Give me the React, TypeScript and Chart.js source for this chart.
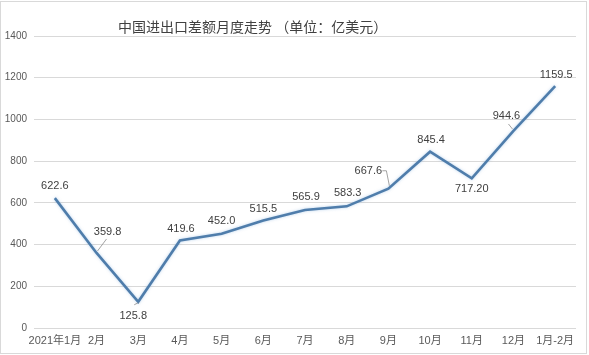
import React, { useEffect, useRef } from "react";
import { Chart, registerables } from "chart.js";

Chart.register(...registerables);

const categories = ["2021年1月", "2月", "3月", "4月", "5月", "6月", "7月", "8月", "9月", "10月", "11月", "12月", "1月-2月"];
const values = [622.6, 359.8, 125.8, 419.6, 452.0, 515.5, 565.9, 583.3, 667.6, 845.4, 717.2, 944.6, 1159.5];
const valueLabels = ["622.6", "359.8", "125.8", "419.6", "452.0", "515.5", "565.9", "583.3", "667.6", "845.4", "717.20", "944.6", "1159.5"];
const titleText = "中国进出口差额月度走势 （单位：亿美元）";

// label placement offsets (px) relative to points
const labelOffsets: [number, number][] = [
  [0, -12], [11, -21], [-5, 14], [1, -12], [0, -13], [0, -12], [1, -13],
  [1, -13], [-20, -18], [1, -12], [0, 11], [-7, -15], [1, -11],
];
const leaders: Record<number, [number, number][]> = {
  1: [[1, -2], [10, -14]],
  2: [[-4, 3], [0, 1]],
  8: [[-6, -18], [-2, -18], [1, -3]],
  11: [[-5, -7], [-1, -2]],
};

const FONT = "'Liberation Sans', 'Noto Sans CJK SC', sans-serif";

export default function App() {
  const ref = useRef<HTMLCanvasElement | null>(null);
  useEffect(() => {
    document.body.style.margin = "0";
    const canvas = ref.current!;
    const framePlugin = {
      id: "frame",
      beforeDraw(chart: any) {
        const ctx = chart.ctx;
        ctx.save();
        ctx.fillStyle = "#ffffff";
        ctx.fillRect(0, 0, chart.width, chart.height);
        ctx.strokeStyle = "#d9d9d9";
        ctx.lineWidth = 1;
        ctx.strokeRect(0.5, 1.5, 586, 352);
        ctx.restore();
      },
      afterDraw(chart: any) {
        const ctx = chart.ctx;
        const area = chart.chartArea;
        ctx.save();
        ctx.fillStyle = "#404040";
        ctx.font = `14px 'Noto Sans CJK SC', sans-serif`;
        ctx.textAlign = "left";
        ctx.textBaseline = "middle";
        ctx.fillText(titleText, area.left + 84, 27);
        const meta = chart.getDatasetMeta(0);
        ctx.font = `11px ${FONT}`;
        ctx.textAlign = "center";
        ctx.fillStyle = "#404040";
        meta.data.forEach((pt: any, i: number) => {
          const [dx, dy] = labelOffsets[i];
          ctx.fillText(valueLabels[i], pt.x + dx, pt.y + dy);
          const ld = leaders[i];
          if (ld) {
            ctx.strokeStyle = "#8c8c8c";
            ctx.lineWidth = 0.8;
            ctx.beginPath();
            ld.forEach(([lx, ly], k) => {
              if (k === 0) ctx.moveTo(pt.x + lx, pt.y + ly);
              else ctx.lineTo(pt.x + lx, pt.y + ly);
            });
            ctx.stroke();
          }
        });
        ctx.restore();
      },
    };
    const glowPlugin = {
      id: "glow",
      beforeDatasetDraw(chart: any) {
        const ctx = chart.ctx;
        ctx.save();
        ctx.shadowColor = "rgba(120,170,220,0.5)";
        ctx.shadowBlur = 3;
      },
      afterDatasetDraw(chart: any) {
        chart.ctx.restore();
      },
    };
    const chart = new Chart(canvas, {
      type: "line",
      data: {
        labels: categories,
        datasets: [
          {
            data: values,
            borderColor: "#4f7dab",
            borderWidth: 2.6,
            pointRadius: 0,
            tension: 0,
            fill: false,
          },
        ],
      },
      options: {
        animation: false,
        responsive: false,
        maintainAspectRatio: false,
        layout: { padding: { top: 36, right: 13, left: 0, bottom: 0 } },
        plugins: { legend: { display: false }, title: { display: false }, tooltip: { enabled: false } },
        scales: {
          x: {
            offset: true,
            grid: { display: false, drawTicks: false },
            border: { display: false },
            ticks: { color: "#595959", font: { size: 11, family: FONT }, padding: 6, maxRotation: 0, autoSkip: false },
            afterFit(scale: any) {
              scale.height = 27;
            },
          },
          y: {
            min: 0,
            max: 1400,
            grid: { color: "#d9d9d9", drawTicks: false, lineWidth: 1 },
            border: { display: false },
            ticks: {
              stepSize: 200,
              color: "#595959",
              font: { size: 10, family: FONT },
              padding: 7,
              callback: (v: any) => String(v),
            },
            afterFit(scale: any) {
              scale.width = 34;
            },
          },
        },
      },
      plugins: [framePlugin, glowPlugin],
    });
    return () => chart.destroy();
  }, []);
  return (
    <div style={{ width: 589, height: 355 }}>
      <canvas ref={ref} width={589} height={355} style={{ display: "block", width: 589, height: 355 }} />
    </div>
  );
}
